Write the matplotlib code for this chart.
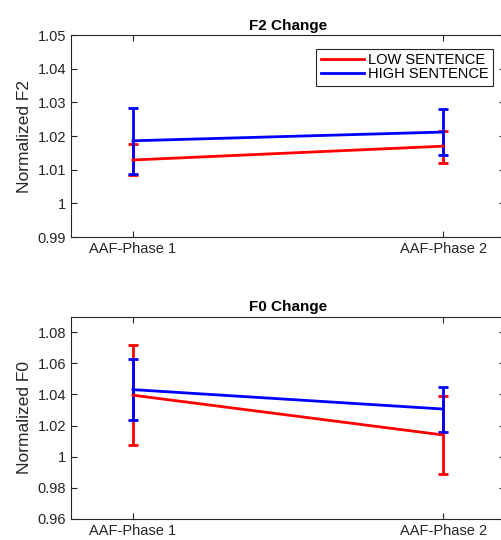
import numpy as np
import matplotlib
matplotlib.use("Agg")
import matplotlib.pyplot as plt
from matplotlib.ticker import FuncFormatter
from matplotlib.lines import Line2D

plt.rcParams['font.family'] = ['Liberation Sans', 'DejaVu Sans']

phases = ["AAF-Phase 1", "AAF-Phase 2"]
x = [1, 2]

# F2 change
f2_low = [1.0129, 1.0170]
f2_low_lo = [0.0045, 0.0051]
f2_low_hi = [0.0046, 0.0045]
f2_high = [1.0186, 1.0212]
f2_high_lo = [0.0098, 0.0068]
f2_high_hi = [0.0096, 0.0068]

# F0 change
f0_low = [1.0395, 1.0139]
f0_low_lo = [0.0318, 0.0251]
f0_low_hi = [0.0322, 0.0249]
f0_high = [1.0431, 1.0306]
f0_high_lo = [0.0195, 0.0146]
f0_high_hi = [0.0197, 0.0144]

fig = plt.figure(figsize=(5.02, 5.40), dpi=100)
ax1 = fig.add_axes([0.1414, 0.561, 0.865, 0.374])
ax2 = fig.add_axes([0.1414, 0.0394, 0.865, 0.374])

fmt = FuncFormatter(lambda v, p: f"{v:g}")


def draw(ax, low, low_err, high, high_err, title, ylabel, ylim, yticks):
    ax.errorbar(x, low, yerr=low_err, color=(1, 0, 0), lw=2, capsize=3.6,
                capthick=2, elinewidth=2, label="LOW SENTENCE")
    ax.errorbar(x, high, yerr=high_err, color=(0, 0, 1), lw=2, capsize=3.6,
                capthick=2, elinewidth=2, label="HIGH SENTENCE")
    ax.set_xlim(0.8, 2.2)
    ax.set_ylim(*ylim)
    ax.set_yticks(yticks)
    ax.yaxis.set_major_formatter(fmt)
    ax.set_xticks(x)
    ax.set_xticklabels(phases)
    ax.tick_params(direction='in', top=True, right=True, labelsize=10.5,
                   colors='#262626', length=4, width=0.8)
    for s in ax.spines.values():
        s.set_color('#262626')
        s.set_linewidth(0.8)
    ax.set_title(title, fontsize=11, fontweight='bold', pad=4)
    ax.set_ylabel(ylabel, fontsize=12.5, color='#262626', labelpad=4)


draw(ax1, f2_low, [f2_low_lo, f2_low_hi], f2_high, [f2_high_lo, f2_high_hi],
     "F2 Change", "Normalized F2", (0.99, 1.05),
     [0.99, 1.0, 1.01, 1.02, 1.03, 1.04, 1.05])
draw(ax2, f0_low, [f0_low_lo, f0_low_hi], f0_high, [f0_high_lo, f0_high_hi],
     "F0 Change", "Normalized F0", (0.96, 1.09),
     [0.96, 0.98, 1.0, 1.02, 1.04, 1.06, 1.08])

handles, labels = ax1.get_legend_handles_labels()
h = [Line2D([], [], color=(1, 0, 0), lw=2), Line2D([], [], color=(0, 0, 1), lw=2)]
leg = ax1.legend(h, labels, loc='upper right', bbox_to_anchor=(0.972, 0.931),
                 fontsize=10.5, frameon=True, fancybox=False, framealpha=1,
                 edgecolor='#262626', borderpad=0.3, labelspacing=0.0,
                 handlelength=3.0, handletextpad=0.25, borderaxespad=0)
leg.get_frame().set_linewidth(0.8)

fig.savefig("out.png", dpi=100)
